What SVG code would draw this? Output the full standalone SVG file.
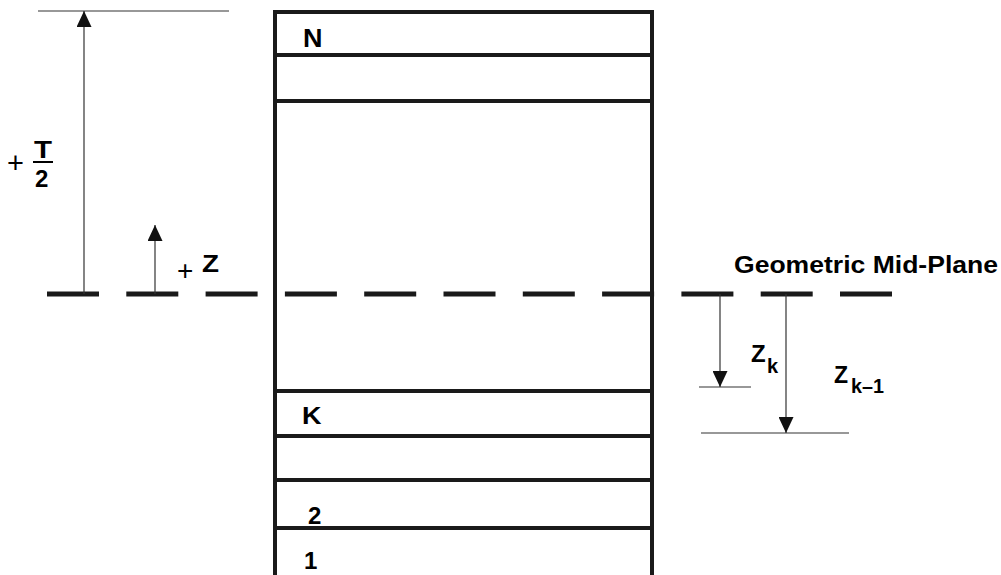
<svg xmlns="http://www.w3.org/2000/svg" width="1001" height="575" viewBox="0 0 1001 575">
<defs>
<marker id="ah" markerWidth="16" markerHeight="15" refX="16" refY="7.5" orient="auto" markerUnits="userSpaceOnUse" viewBox="0 0 16 15">
<path d="M0,0 L16,7.5 L0,15 Z" fill="#111"/>
</marker>
<style>
.b{font-family:"Liberation Sans",Arial,sans-serif;font-weight:bold;fill:#000}
.r{font-family:"Liberation Sans",Arial,sans-serif;fill:#000}
.thick{stroke:#1a1a1a;stroke-width:4;fill:none}
.thin{stroke:#333;stroke-width:1.2;fill:none}
</style>
</defs>
<rect width="1001" height="575" fill="#fff"/>
<g id="laminate">
<path class="thick" d="M275,575 V12 H652 V575"/>
<line class="thick" x1="275" y1="55" x2="652" y2="55"/>
<line class="thick" x1="275" y1="101" x2="652" y2="101"/>
<line class="thick" x1="275" y1="391" x2="652" y2="391"/>
<line class="thick" x1="275" y1="436" x2="652" y2="436"/>
<line class="thick" x1="275" y1="480" x2="652" y2="480"/>
<line class="thick" x1="275" y1="528" x2="652" y2="528"/>
<text class="b" x="303" y="47" font-size="25" textLength="19.5" lengthAdjust="spacingAndGlyphs">N</text>
<text class="b" x="302" y="424" font-size="24" textLength="19.5" lengthAdjust="spacingAndGlyphs">K</text>
<text class="b" x="308" y="524" font-size="24">2</text>
<text class="b" x="304" y="569" font-size="24">1</text>
</g>
<g id="midplane">
<line x1="47" y1="294" x2="893" y2="294" stroke="#1a1a1a" stroke-width="5" stroke-dasharray="52 27.3"/>
<text class="b" x="734" y="273" font-size="23.5" textLength="264" lengthAdjust="spacingAndGlyphs">Geometric Mid-Plane</text>
</g>
<g id="connectors">
<line class="thin" x1="38" y1="11" x2="229" y2="11"/>
<line class="thin" x1="84" y1="294" x2="84" y2="11" marker-end="url(#ah)"/>
<line class="thin" x1="155" y1="294" x2="155" y2="225" marker-end="url(#ah)"/>
<line class="thin" x1="720" y1="294" x2="720" y2="387" marker-end="url(#ah)"/>
<line class="thin" x1="699" y1="387" x2="751" y2="387"/>
<line class="thin" x1="786" y1="294" x2="786" y2="433" marker-end="url(#ah)"/>
<line class="thin" x1="701" y1="433" x2="849" y2="433"/>
</g>
<g id="labels">
<text class="r" x="7" y="173" font-size="29">+</text>
<text class="b" x="34" y="158" font-size="23" textLength="18" lengthAdjust="spacingAndGlyphs">T</text>
<line x1="33" y1="162" x2="53" y2="162" stroke="#000" stroke-width="2"/>
<text class="b" x="35" y="187" font-size="24">2</text>
<text class="r" x="177" y="280" font-size="28">+</text>
<text class="b" x="202" y="272" font-size="23" textLength="17" lengthAdjust="spacingAndGlyphs">Z</text>
<text class="b" x="751" y="362" font-size="24">Z</text>
<text class="b" x="767" y="373" font-size="20">k</text>
<text class="b" x="834" y="383" font-size="23">Z</text>
<text class="b" x="851" y="393" font-size="20" textLength="33" lengthAdjust="spacingAndGlyphs">k–1</text>
</g>
</svg>
